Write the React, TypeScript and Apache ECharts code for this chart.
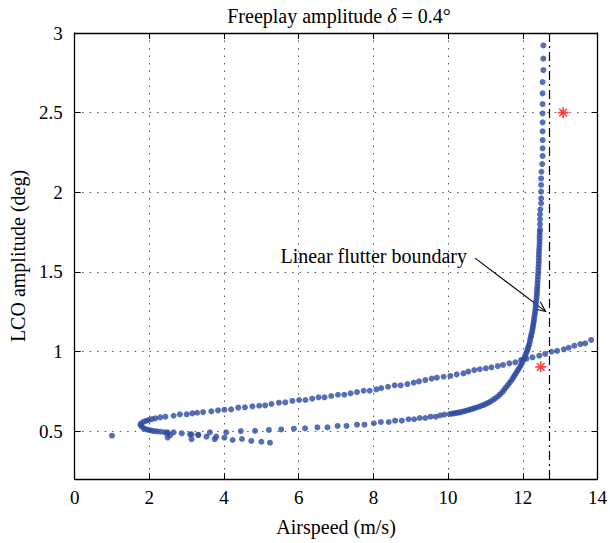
import React, { useEffect, useRef } from "react";
import * as echarts from "echarts";

// ---- data ----
const xTicks = [0, 2, 4, 6, 8, 10, 12, 14];
const yTicks = [0.5, 1, 1.5, 2, 2.5, 3];
const flutterBoundary = 12.7;

// stable (upper) branch from the fold to the right
const upperBranch: [number, number][] = [
  [1.76, 0.539], [1.78, 0.55], [1.85, 0.56], [1.92, 0.566], [1.98, 0.57], [2.07, 0.576],
  [2.16, 0.581], [2.29, 0.587], [2.43, 0.591], [2.65, 0.597], [2.82, 0.606], [3.0, 0.606],
  [3.15, 0.612], [3.28, 0.616], [3.44, 0.62], [3.66, 0.625], [3.84, 0.631], [4.01, 0.635],
  [4.19, 0.637], [4.38, 0.648], [4.56, 0.65], [4.76, 0.656], [4.94, 0.66], [5.1, 0.662],
  [5.27, 0.671], [5.47, 0.679], [5.64, 0.681], [5.83, 0.69], [6.01, 0.696], [6.18, 0.696],
  [6.36, 0.704], [6.53, 0.713], [6.69, 0.713], [6.87, 0.721], [7.05, 0.729], [7.22, 0.729],
  [7.39, 0.738], [7.56, 0.746], [7.74, 0.754], [7.9, 0.754], [8.08, 0.763], [8.21, 0.771],
  [8.39, 0.779], [8.57, 0.788], [8.73, 0.788], [8.91, 0.796], [9.08, 0.805], [9.22, 0.813],
  [9.39, 0.821], [9.56, 0.83], [9.7, 0.836], [9.88, 0.842], [10.06, 0.847], [10.23, 0.857],
  [10.41, 0.863], [10.54, 0.874], [10.7, 0.884], [10.85, 0.889], [11.01, 0.895], [11.16, 0.901],
  [11.33, 0.909], [11.47, 0.916], [11.64, 0.926], [11.8, 0.932], [11.95, 0.947], [12.1, 0.955],
  [12.26, 0.964], [12.44, 0.974], [12.6, 0.985], [12.77, 0.999], [12.92, 1.004], [13.1, 1.014],
  [13.23, 1.024], [13.38, 1.037], [13.54, 1.047], [13.67, 1.052], [13.83, 1.073],
];

// lower branch from the fold, bending up near the flutter speed
const lowerBranch: [number, number][] = [
  [1.8, 0.528], [1.85, 0.518], [1.92, 0.512], [1.98, 0.508], [2.05, 0.504], [2.12, 0.501],
  [2.2, 0.499], [2.29, 0.497], [2.4, 0.494], [2.49, 0.493], [2.65, 0.493], [2.87, 0.487],
  [3.13, 0.481], [3.31, 0.478], [3.62, 0.493], [4.06, 0.493], [4.45, 0.501], [4.83, 0.502],
  [5.2, 0.508], [5.53, 0.511], [5.87, 0.516], [6.17, 0.518], [6.5, 0.524], [6.77, 0.524],
  [7.04, 0.533], [7.28, 0.533], [7.56, 0.541], [7.76, 0.541], [8.01, 0.55], [8.2, 0.558],
  [8.41, 0.558], [8.58, 0.566], [8.76, 0.566], [8.94, 0.575], [9.09, 0.575], [9.24, 0.583],
  [9.39, 0.583], [9.53, 0.591], [9.67, 0.591], [9.79, 0.6], [9.9, 0.604], [10.04, 0.608],
  [10.1, 0.61], [10.16, 0.612], [10.22, 0.615], [10.28, 0.617], [10.34, 0.62], [10.41, 0.624],
  [10.47, 0.628], [10.54, 0.633], [10.6, 0.637], [10.67, 0.642], [10.73, 0.647], [10.8, 0.652],
  [10.87, 0.658], [10.94, 0.664], [11.0, 0.67], [11.07, 0.678], [11.13, 0.686], [11.2, 0.696],
  [11.26, 0.706], [11.33, 0.718], [11.39, 0.731], [11.45, 0.745], [11.5, 0.76], [11.55, 0.775],
  [11.6, 0.79], [11.65, 0.805], [11.7, 0.82], [11.74, 0.835], [11.78, 0.85], [11.82, 0.865],
  [11.86, 0.88], [11.9, 0.895], [11.94, 0.91], [11.97, 0.925], [12.0, 0.94], [12.03, 0.955],
  [12.06, 0.97], [12.08, 0.985], [12.11, 1.0], [12.13, 1.015], [12.15, 1.03], [12.17, 1.045],
  [12.19, 1.062], [12.2, 1.08], [12.22, 1.095], [12.23, 1.11], [12.25, 1.125], [12.26, 1.14],
  [12.27, 1.155], [12.28, 1.17], [12.29, 1.185], [12.3, 1.2], [12.31, 1.218], [12.32, 1.235],
  [12.33, 1.252], [12.34, 1.27], [12.345, 1.288], [12.35, 1.305], [12.36, 1.322], [12.37, 1.34],
  [12.375, 1.358], [12.38, 1.375], [12.385, 1.393], [12.39, 1.41], [12.395, 1.43], [12.4, 1.45],
  [12.405, 1.47], [12.41, 1.49], [12.415, 1.51], [12.42, 1.53], [12.425, 1.55], [12.43, 1.57],
  [12.43, 1.59], [12.43, 1.61], [12.435, 1.63], [12.44, 1.65], [12.445, 1.67], [12.45, 1.69],
  [12.45, 1.71], [12.45, 1.73], [12.455, 1.75], [12.46, 1.767], [12.46, 1.799],
  [12.46, 1.83], [12.46, 1.862], [12.47, 1.893],
  [12.49, 1.931], [12.49, 1.962], [12.49, 2.004], [12.49, 2.046], [12.49, 2.087],
  [12.5, 2.129], [12.52, 2.177], [12.53, 2.228], [12.53, 2.276], [12.53, 2.328], [12.53, 2.383],
  [12.53, 2.439], [12.53, 2.496], [12.53, 2.554], [12.53, 2.621], [12.53, 2.692], [12.55, 2.767],
  [12.55, 2.839], [12.55, 2.922],
];

// scattered low-amplitude points
const scatterPoints: [number, number][] = [
  [1.0, 0.472], [2.47, 0.487], [2.56, 0.476], [2.49, 0.46], [3.09, 0.48], [3.13, 0.45],
  [3.31, 0.476], [3.53, 0.466], [3.75, 0.45], [3.79, 0.466], [4.01, 0.46], [4.23, 0.445],
  [4.48, 0.451], [4.73, 0.439], [5.0, 0.434], [5.23, 0.428],
];

// red asterisks
const experimentPoints: [number, number][] = [
  [13.08, 2.5], [12.48, 0.904],
];

const arrowFrom: [number, number] = [10.72, 1.587];
const arrowTo: [number, number] = [12.61, 1.252];

const FONT = "Liberation Serif";
const BLUE = "#2d4ba3";

export default function App() {
  const ref = useRef<HTMLDivElement>(null);
  useEffect(() => {
    if (!ref.current) return;
    const chart = echarts.init(ref.current, null, { renderer: "svg" });
    const axisLineStyle = { color: "#000", width: 1.3 };
    const gridLine = { show: true, lineStyle: { color: "#555", type: [1.5, 6], width: 1 } };
    chart.setOption({
      animation: false,
      backgroundColor: "#fff",
      title: {
        text: "{a|Freeplay amplitude }{i|δ}{a| = 0.4°}",
        left: 334,
        textAlign: "center",
        top: 1,
        textStyle: {
          fontWeight: "normal",
          rich: {
            a: { fontFamily: FONT, fontSize: 20, color: "#000", fontWeight: "normal" },
            i: { fontFamily: FONT, fontSize: 20, color: "#000", fontStyle: "italic", fontWeight: "normal" },
          },
        },
      },
      grid: { left: 70, right: 11, top: 33, bottom: 64 },
      xAxis: [
        {
          type: "value", min: 0, max: 14, interval: 2, position: "bottom",
          axisLine: { show: true, onZero: false, lineStyle: axisLineStyle },
          axisTick: { show: true, inside: true, length: 6, lineStyle: { color: "#000" } },
          axisLabel: { color: "#000", fontFamily: FONT, fontSize: 19, margin: 9 },
          splitLine: gridLine,
          name: "Airspeed (m/s)", nameLocation: "middle", nameGap: 38,
          nameTextStyle: { color: "#000", fontFamily: FONT, fontSize: 20 },
        },
        {
          type: "value", min: 0, max: 14, interval: 2, position: "top",
          axisLine: { show: true, onZero: false, lineStyle: axisLineStyle },
          axisTick: { show: true, inside: true, length: 6, lineStyle: { color: "#000" } },
          axisLabel: { show: false }, splitLine: { show: false },
        },
      ],
      yAxis: [
        {
          type: "value", min: 0.2, max: 3, position: "left",
          axisLine: { show: true, onZero: false, lineStyle: axisLineStyle },
          axisTick: { show: true, inside: true, length: 6, customValues: yTicks, lineStyle: { color: "#000" } },
          axisLabel: { color: "#000", fontFamily: FONT, fontSize: 19, margin: 12, customValues: yTicks },
          splitLine: gridLine,
          name: "LCO amplitude (deg)", nameLocation: "middle", nameGap: 42,
          nameTextStyle: { color: "#000", fontFamily: FONT, fontSize: 20 },
        },
        {
          type: "value", min: 0.2, max: 3, position: "right",
          axisLine: { show: true, onZero: false, lineStyle: axisLineStyle },
          axisTick: { show: true, inside: true, length: 6, customValues: yTicks, lineStyle: { color: "#000" } },
          axisLabel: { show: false }, splitLine: { show: false },
        },
      ],
      series: [
        {
          type: "scatter", data: upperBranch, symbolSize: 6,
          itemStyle: { color: BLUE }, silent: true,
          markLine: {
            silent: true, symbol: "none", animation: false,
            label: { show: false },
            lineStyle: { color: "#000", type: [9, 4, 2, 4], width: 1.2 },
            data: [{ xAxis: flutterBoundary }],
          },
        },
        {
          type: "scatter", data: lowerBranch, symbolSize: 6,
          itemStyle: { color: BLUE }, silent: true,
        },
        {
          type: "scatter", data: scatterPoints, symbolSize: 6,
          itemStyle: { color: BLUE }, silent: true,
        },
        {
          type: "scatter", data: experimentPoints, symbolSize: 11,
          symbol: "path://M5,0 L5,10 M0,5 L10,5 M1.5,1.5 L8.5,8.5 M8.5,1.5 L1.5,8.5",
          itemStyle: { color: "none", borderColor: "#ff1010", borderWidth: 1.6 },
          silent: true,
        },
      ],
    });

    // annotation arrow, placed through the chart's own coordinate system
    const p0 = chart.convertToPixel({ gridIndex: 0 }, arrowFrom) as number[];
    const p1 = chart.convertToPixel({ gridIndex: 0 }, arrowTo) as number[];
    const ang = Math.atan2(p1[1] - p0[1], p1[0] - p0[0]);
    const headLen = 11;
    const spread = 0.42;
    const hA = [p1[0] - headLen * Math.cos(ang - spread), p1[1] - headLen * Math.sin(ang - spread)];
    const hB = [p1[0] - headLen * Math.cos(ang + spread), p1[1] - headLen * Math.sin(ang + spread)];
    chart.setOption({
      graphic: [
        {
          type: "line", silent: true,
          shape: { x1: p0[0], y1: p0[1], x2: p1[0], y2: p1[1] },
          style: { stroke: "#000", lineWidth: 1.1 },
        },
        {
          type: "polyline", silent: true,
          shape: { points: [hA, p1, hB] },
          style: { stroke: "#000", lineWidth: 1.1, fill: "none" },
        },
        {
          type: "text", silent: true, x: p0[0] - 8, y: p0[1] - 2,
          style: {
            text: "Linear flutter boundary", fill: "#000",
            font: `20px "${FONT}"`, textAlign: "right", textVerticalAlign: "middle",
          },
        },
      ],
    });
    return () => chart.dispose();
  }, []);
  return (
    <div
      ref={ref}
      style={{ position: "fixed", left: 0, top: 0, width: 610, height: 543, background: "#fff" }}
    />
  );
}
